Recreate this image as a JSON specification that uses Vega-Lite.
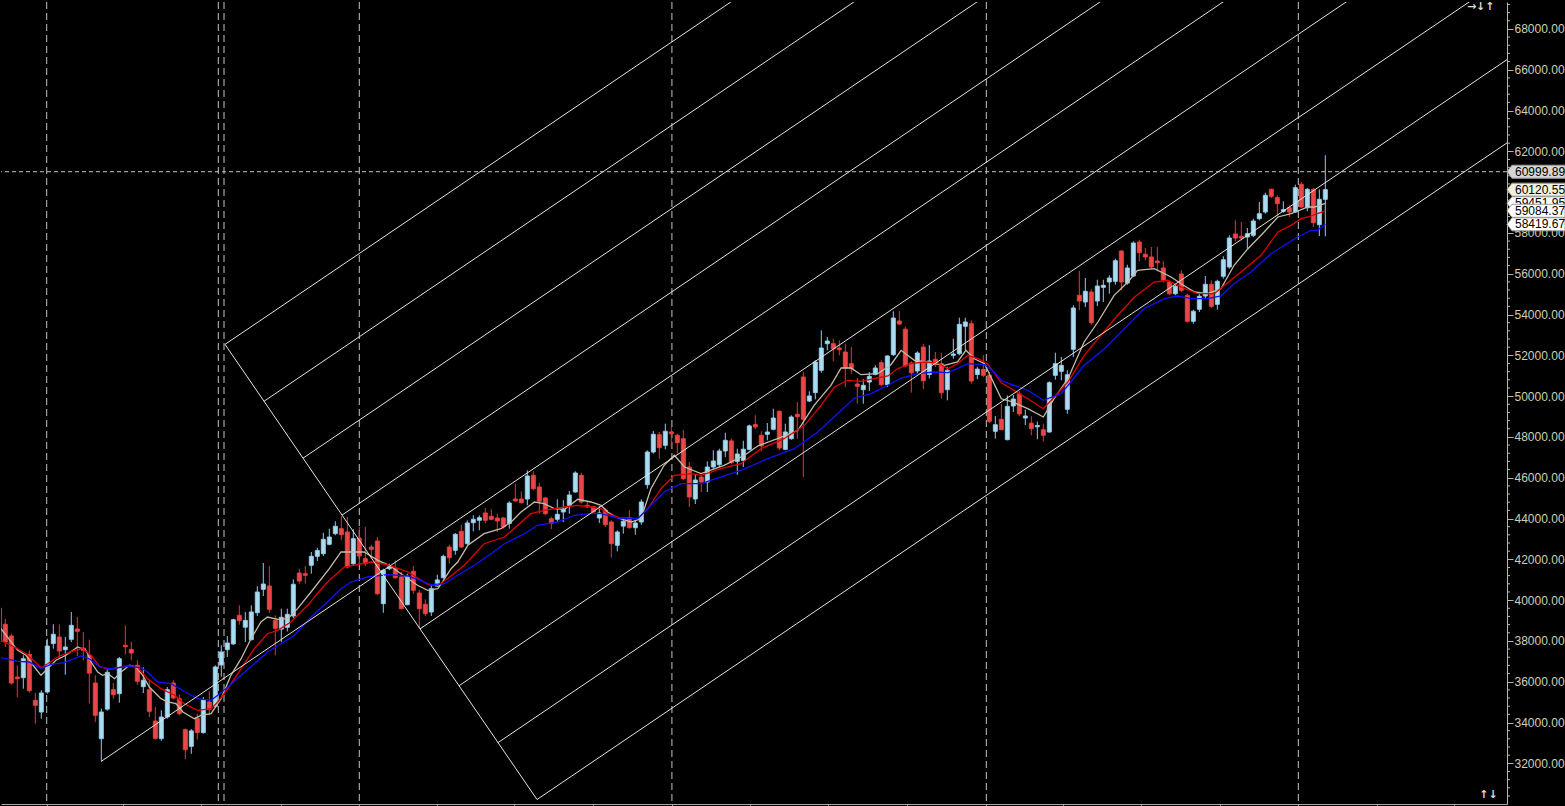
{
  "$schema": "https://vega.github.io/schema/vega-lite/v6.json",
  "width": 1506,
  "height": 802,
  "padding": 0,
  "autosize": {"type": "pad"},
  "background": "#000000",
  "config": {"view": {"stroke": null}, "axis": {"grid": false, "labelOverlap": false}, "scale": {"continuousPadding": 0}},
  "datasets": {
    "candles": [
      {"k":-1,"o":39613,"h":39760,"l":37848,"c":37946},
      {"k":0,"o":38814,"h":39088,"l":37701,"c":37946},
      {"k":1,"o":38240,"h":38353,"l":35853,"c":35936},
      {"k":2,"o":36231,"h":36804,"l":35250,"c":36147},
      {"k":3,"o":36196,"h":37294,"l":35657,"c":37127},
      {"k":4,"o":37343,"h":37539,"l":35461,"c":35559},
      {"k":5,"o":35088,"h":35446,"l":33941,"c":34843},
      {"k":6,"o":34515,"h":35579,"l":34187,"c":35446},
      {"k":7,"o":35495,"h":38108,"l":35412,"c":37750},
      {"k":8,"o":37867,"h":38814,"l":37618,"c":38324},
      {"k":9,"o":38191,"h":38814,"l":37127,"c":37505},
      {"k":10,"o":37569,"h":38191,"l":36343,"c":37701},
      {"k":11,"o":38078,"h":39417,"l":37946,"c":38765},
      {"k":12,"o":38584,"h":39172,"l":37260,"c":38471},
      {"k":13,"o":37652,"h":38436,"l":37050,"c":37539},
      {"k":14,"o":37294,"h":38059,"l":34922,"c":36422},
      {"k":15,"o":35936,"h":36314,"l":34025,"c":34354},
      {"k":16,"o":33206,"h":34677,"l":32098,"c":34515},
      {"k":17,"o":34657,"h":36588,"l":34579,"c":36461},
      {"k":18,"o":35608,"h":35936,"l":35167,"c":35363},
      {"k":19,"o":35412,"h":37211,"l":34971,"c":37127},
      {"k":20,"o":37784,"h":38765,"l":37333,"c":37716},
      {"k":21,"o":37583,"h":37960,"l":37050,"c":37407},
      {"k":22,"o":36804,"h":37050,"l":35853,"c":36020},
      {"k":23,"o":35755,"h":36706,"l":35446,"c":36069},
      {"k":24,"o":35608,"h":36034,"l":34270,"c":34549},
      {"k":25,"o":34074,"h":34760,"l":33157,"c":33225},
      {"k":26,"o":33206,"h":34598,"l":33108,"c":34270},
      {"k":27,"o":34270,"h":35740,"l":34187,"c":35608},
      {"k":28,"o":35936,"h":36069,"l":35137,"c":35201},
      {"k":29,"o":35167,"h":35363,"l":34353,"c":34432},
      {"k":30,"o":33647,"h":33711,"l":32206,"c":32666},
      {"k":31,"o":32832,"h":33677,"l":32463,"c":33589},
      {"k":32,"o":34206,"h":34422,"l":33157,"c":33505},
      {"k":33,"o":33505,"h":35250,"l":33456,"c":35103},
      {"k":34,"o":35005,"h":35530,"l":34353,"c":34647},
      {"k":35,"o":34795,"h":36804,"l":34711,"c":36721},
      {"k":36,"o":36819,"h":37785,"l":36245,"c":37456},
      {"k":37,"o":37569,"h":38240,"l":37211,"c":37898},
      {"k":38,"o":37853,"h":39088,"l":37804,"c":39039},
      {"k":39,"o":39255,"h":39745,"l":38794,"c":38990},
      {"k":40,"o":38672,"h":39417,"l":37946,"c":39005},
      {"k":41,"o":38059,"h":39745,"l":38030,"c":39417},
      {"k":42,"o":39383,"h":40677,"l":39221,"c":40397},
      {"k":43,"o":40530,"h":41819,"l":40201,"c":40789},
      {"k":44,"o":40691,"h":41672,"l":39368,"c":39549},
      {"k":45,"o":39010,"h":39255,"l":37294,"c":38618},
      {"k":46,"o":38579,"h":39579,"l":37946,"c":39157},
      {"k":47,"o":38667,"h":39579,"l":38461,"c":39304},
      {"k":48,"o":39221,"h":41019,"l":39123,"c":40775},
      {"k":49,"o":41329,"h":41540,"l":40804,"c":40936},
      {"k":50,"o":41294,"h":41672,"l":40804,"c":41216},
      {"k":51,"o":41706,"h":42358,"l":41294,"c":42147},
      {"k":52,"o":42147,"h":42569,"l":41917,"c":42431},
      {"k":53,"o":42275,"h":43304,"l":42162,"c":42981},
      {"k":54,"o":42735,"h":43500,"l":42686,"c":43093},
      {"k":55,"o":43255,"h":43863,"l":43177,"c":43618},
      {"k":56,"o":43500,"h":44123,"l":42932,"c":43206},
      {"k":57,"o":43338,"h":44074,"l":41540,"c":41623},
      {"k":58,"o":41784,"h":43471,"l":41706,"c":43010},
      {"k":59,"o":43044,"h":43583,"l":41706,"c":42162},
      {"k":60,"o":42030,"h":43583,"l":41672,"c":41784},
      {"k":61,"o":42603,"h":42716,"l":42030,"c":42490},
      {"k":62,"o":42897,"h":43093,"l":40235,"c":40314},
      {"k":63,"o":39824,"h":41540,"l":39383,"c":41461},
      {"k":64,"o":41540,"h":41784,"l":41461,"c":41623},
      {"k":65,"o":41540,"h":41951,"l":41049,"c":41098},
      {"k":66,"o":41133,"h":41378,"l":39549,"c":39579},
      {"k":67,"o":39775,"h":41294,"l":39745,"c":41167},
      {"k":68,"o":41412,"h":41672,"l":40314,"c":40481},
      {"k":69,"o":40348,"h":40481,"l":38632,"c":39579},
      {"k":70,"o":39794,"h":40039,"l":39221,"c":39334},
      {"k":71,"o":39417,"h":40726,"l":39221,"c":40559},
      {"k":72,"o":40691,"h":41245,"l":40642,"c":40990},
      {"k":73,"o":41098,"h":42226,"l":41049,"c":42147},
      {"k":74,"o":42603,"h":42716,"l":41784,"c":42079},
      {"k":75,"o":42441,"h":43289,"l":42226,"c":43225},
      {"k":76,"o":43373,"h":43696,"l":42554,"c":42603},
      {"k":77,"o":42765,"h":43912,"l":42716,"c":43779},
      {"k":78,"o":43794,"h":44157,"l":43373,"c":43961},
      {"k":79,"o":43912,"h":44157,"l":43422,"c":44039},
      {"k":80,"o":44270,"h":44515,"l":43755,"c":43912},
      {"k":81,"o":44108,"h":44456,"l":43912,"c":43961},
      {"k":82,"o":44025,"h":44235,"l":43338,"c":43877},
      {"k":83,"o":44025,"h":44074,"l":43500,"c":43583},
      {"k":84,"o":43755,"h":44843,"l":43500,"c":44760},
      {"k":85,"o":44956,"h":45706,"l":44843,"c":44858},
      {"k":86,"o":44956,"h":45333,"l":44726,"c":44775},
      {"k":87,"o":44956,"h":46363,"l":44647,"c":46084},
      {"k":88,"o":46118,"h":46314,"l":45382,"c":45461},
      {"k":89,"o":45544,"h":45755,"l":44236,"c":44843},
      {"k":90,"o":45005,"h":45054,"l":44157,"c":44236},
      {"k":91,"o":43990,"h":44088,"l":43481,"c":43760},
      {"k":92,"o":43961,"h":44941,"l":43829,"c":44206},
      {"k":93,"o":44319,"h":44897,"l":43829,"c":44451},
      {"k":94,"o":44647,"h":45348,"l":44236,"c":45152},
      {"k":95,"o":45299,"h":46314,"l":45265,"c":46231},
      {"k":96,"o":46118,"h":46245,"l":44726,"c":44809},
      {"k":97,"o":44647,"h":44809,"l":44515,"c":44564},
      {"k":98,"o":44578,"h":44613,"l":44270,"c":44319},
      {"k":99,"o":44025,"h":44613,"l":43784,"c":44270},
      {"k":100,"o":44417,"h":44500,"l":43583,"c":43696},
      {"k":101,"o":43829,"h":43912,"l":42079,"c":42765},
      {"k":102,"o":42686,"h":43422,"l":42392,"c":43338},
      {"k":103,"o":43627,"h":44025,"l":43255,"c":43863},
      {"k":104,"o":44039,"h":44402,"l":43500,"c":43549},
      {"k":105,"o":43549,"h":43912,"l":43206,"c":43779},
      {"k":106,"o":43829,"h":44941,"l":43696,"c":44809},
      {"k":107,"o":45657,"h":47343,"l":45461,"c":47260},
      {"k":108,"o":47260,"h":48289,"l":47177,"c":48128},
      {"k":109,"o":48108,"h":48240,"l":46931,"c":47471},
      {"k":110,"o":47588,"h":48652,"l":47392,"c":48275},
      {"k":111,"o":48240,"h":48485,"l":47505,"c":48157},
      {"k":112,"o":48079,"h":48157,"l":47177,"c":47716},
      {"k":113,"o":47912,"h":48353,"l":45873,"c":45956},
      {"k":114,"o":46525,"h":46770,"l":44564,"c":45054},
      {"k":115,"o":44956,"h":46182,"l":44711,"c":45887},
      {"k":116,"o":46035,"h":46118,"l":45299,"c":45790},
      {"k":117,"o":45790,"h":46799,"l":45299,"c":46525},
      {"k":118,"o":46525,"h":47343,"l":46443,"c":46819},
      {"k":119,"o":46638,"h":47422,"l":46525,"c":47309},
      {"k":120,"o":47309,"h":48206,"l":47015,"c":47833},
      {"k":121,"o":47804,"h":47917,"l":46642,"c":46740},
      {"k":122,"o":46799,"h":47421,"l":46143,"c":47162},
      {"k":123,"o":46848,"h":47814,"l":46525,"c":47397},
      {"k":124,"o":47389,"h":48603,"l":47343,"c":48539},
      {"k":125,"o":48603,"h":49064,"l":48377,"c":48490},
      {"k":126,"o":48079,"h":48275,"l":47299,"c":47559},
      {"k":127,"o":48128,"h":48682,"l":47833,"c":48240},
      {"k":128,"o":48373,"h":49383,"l":48324,"c":48926},
      {"k":129,"o":49255,"h":49304,"l":47343,"c":47456},
      {"k":130,"o":47392,"h":48647,"l":47343,"c":48240},
      {"k":131,"o":47912,"h":49059,"l":47863,"c":48976},
      {"k":132,"o":49108,"h":49711,"l":47912,"c":48991},
      {"k":133,"o":50937,"h":51182,"l":46035,"c":48863},
      {"k":134,"o":49760,"h":50235,"l":49711,"c":50005},
      {"k":135,"o":50167,"h":51755,"l":49843,"c":51672},
      {"k":136,"o":51265,"h":53226,"l":51147,"c":52358},
      {"k":137,"o":52569,"h":52897,"l":52245,"c":52701},
      {"k":138,"o":52569,"h":52814,"l":51721,"c":52324},
      {"k":139,"o":52358,"h":52735,"l":51999,"c":52275},
      {"k":140,"o":52162,"h":52569,"l":50446,"c":51378},
      {"k":141,"o":51589,"h":52407,"l":51098,"c":51343},
      {"k":142,"o":50593,"h":50887,"l":49628,"c":50480},
      {"k":143,"o":50314,"h":50824,"l":49628,"c":50530},
      {"k":144,"o":50691,"h":51182,"l":50250,"c":50971},
      {"k":145,"o":51069,"h":51510,"l":51020,"c":51378},
      {"k":146,"o":51638,"h":51755,"l":50480,"c":50559},
      {"k":147,"o":50559,"h":51999,"l":50446,"c":51966},
      {"k":148,"o":52029,"h":54157,"l":51966,"c":53829},
      {"k":149,"o":53682,"h":54172,"l":53486,"c":53535},
      {"k":150,"o":53280,"h":53398,"l":51427,"c":51476},
      {"k":151,"o":51623,"h":51706,"l":50167,"c":51147},
      {"k":152,"o":51231,"h":52196,"l":51098,"c":52113},
      {"k":153,"o":52407,"h":52569,"l":50353,"c":50750},
      {"k":154,"o":51059,"h":52500,"l":50863,"c":51721},
      {"k":155,"o":51804,"h":52162,"l":51427,"c":51559},
      {"k":156,"o":51589,"h":52127,"l":49873,"c":50167},
      {"k":157,"o":50314,"h":51427,"l":49794,"c":51265},
      {"k":158,"o":51999,"h":52814,"l":51833,"c":52064},
      {"k":159,"o":52078,"h":53843,"l":51999,"c":53520},
      {"k":160,"o":53422,"h":53844,"l":52245,"c":53633},
      {"k":161,"o":53549,"h":53716,"l":50608,"c":50740},
      {"k":162,"o":51059,"h":51427,"l":50824,"c":51324},
      {"k":163,"o":51304,"h":52010,"l":50937,"c":51020},
      {"k":164,"o":51020,"h":51182,"l":48682,"c":48765},
      {"k":165,"o":48275,"h":49025,"l":47912,"c":48598},
      {"k":166,"o":48863,"h":49628,"l":48324,"c":48353},
      {"k":167,"o":47863,"h":50030,"l":47833,"c":49500},
      {"k":168,"o":49515,"h":50054,"l":49221,"c":49858},
      {"k":169,"o":50108,"h":50240,"l":49015,"c":49128},
      {"k":170,"o":48926,"h":49338,"l":48583,"c":49025},
      {"k":171,"o":48672,"h":49015,"l":48079,"c":48402},
      {"k":172,"o":48495,"h":48755,"l":47882,"c":48559},
      {"k":173,"o":48353,"h":48647,"l":47784,"c":48079},
      {"k":174,"o":48240,"h":50726,"l":48206,"c":50657},
      {"k":175,"o":51020,"h":52128,"l":50804,"c":51588},
      {"k":176,"o":51216,"h":51917,"l":50775,"c":51510},
      {"k":177,"o":49353,"h":51265,"l":49137,"c":51049},
      {"k":178,"o":52294,"h":54451,"l":51917,"c":54319},
      {"k":179,"o":54941,"h":56133,"l":54206,"c":54662},
      {"k":180,"o":54613,"h":55789,"l":54368,"c":55137},
      {"k":181,"o":55103,"h":55236,"l":53500,"c":53598},
      {"k":182,"o":54662,"h":55706,"l":54417,"c":55397},
      {"k":183,"o":55333,"h":55706,"l":54613,"c":55431},
      {"k":184,"o":55593,"h":55922,"l":55020,"c":55789},
      {"k":185,"o":55627,"h":56736,"l":55461,"c":56638},
      {"k":186,"o":57113,"h":57147,"l":55186,"c":55593},
      {"k":187,"o":55544,"h":56441,"l":55461,"c":56280},
      {"k":188,"o":55887,"h":57589,"l":55838,"c":57505},
      {"k":189,"o":57554,"h":57667,"l":56608,"c":57030},
      {"k":190,"o":56951,"h":57260,"l":56657,"c":56819},
      {"k":191,"o":56819,"h":57309,"l":56216,"c":56329},
      {"k":192,"o":56623,"h":57309,"l":56118,"c":56540},
      {"k":193,"o":56280,"h":56608,"l":55559,"c":55677},
      {"k":194,"o":55593,"h":55677,"l":54941,"c":55020},
      {"k":195,"o":55020,"h":55510,"l":54941,"c":55383},
      {"k":196,"o":55985,"h":56167,"l":55103,"c":55186},
      {"k":197,"o":54941,"h":55020,"l":53598,"c":53667},
      {"k":198,"o":53667,"h":54236,"l":53549,"c":54157},
      {"k":199,"o":54255,"h":55069,"l":54123,"c":54892},
      {"k":200,"o":54907,"h":55887,"l":54775,"c":55480},
      {"k":201,"o":55480,"h":55677,"l":54319,"c":54402},
      {"k":202,"o":54500,"h":55706,"l":54236,"c":55627},
      {"k":203,"o":55873,"h":56853,"l":55755,"c":56686},
      {"k":204,"o":56329,"h":57883,"l":56246,"c":57750},
      {"k":205,"o":57946,"h":58618,"l":57588,"c":57750},
      {"k":206,"o":57833,"h":58535,"l":57637,"c":57750},
      {"k":207,"o":57799,"h":58240,"l":57226,"c":57961},
      {"k":208,"o":57883,"h":58696,"l":57799,"c":58584},
      {"k":209,"o":58696,"h":59515,"l":58618,"c":58941},
      {"k":210,"o":59025,"h":59971,"l":58942,"c":59843},
      {"k":211,"o":60138,"h":60168,"l":59711,"c":59794},
      {"k":212,"o":59726,"h":59843,"l":58829,"c":59432},
      {"k":213,"o":59059,"h":59549,"l":58990,"c":59138},
      {"k":214,"o":59235,"h":59353,"l":58780,"c":59025},
      {"k":215,"o":59025,"h":60363,"l":58990,"c":60216},
      {"k":216,"o":60383,"h":60497,"l":59221,"c":59270},
      {"k":217,"o":59235,"h":60201,"l":59059,"c":60138},
      {"k":218,"o":60138,"h":60201,"l":58290,"c":58500},
      {"k":219,"o":58402,"h":60138,"l":57848,"c":59647},
      {"k":220,"o":59647,"h":61804,"l":57833,"c":60120.55}
    ],
    "ma": [
      {"s":"fast","k":-0.72,"v":38598},{"s":"fast","k":2.06,"v":37539},{"s":"fast","k":3.45,"v":37294},{"s":"fast","k":4.84,"v":36721},{"s":"fast","k":5.95,"v":36314},{"s":"fast","k":7.06,"v":36640},{"s":"fast","k":8.45,"v":37050},{"s":"fast","k":10.1,"v":37294},{"s":"fast","k":12.06,"v":37701},{"s":"fast","k":13.45,"v":37539},{"s":"fast","k":14.3,"v":36966},{"s":"fast","k":15.4,"v":36476},{"s":"fast","k":16.2,"v":36314},{"s":"fast","k":17.1,"v":36392},{"s":"fast","k":18.2,"v":36147},{"s":"fast","k":19.3,"v":36476},{"s":"fast","k":20.7,"v":36804},{"s":"fast","k":21.8,"v":36721},{"s":"fast","k":22.9,"v":36314},{"s":"fast","k":24,"v":35740},{"s":"fast","k":25.95,"v":35167},{"s":"fast","k":27.1,"v":35005},{"s":"fast","k":28.45,"v":34922},{"s":"fast","k":29.6,"v":34515},{"s":"fast","k":31.5,"v":34187},{"s":"fast","k":32.6,"v":34353},{"s":"fast","k":34.3,"v":34432},{"s":"fast","k":35.95,"v":35167},{"s":"fast","k":37.6,"v":36314},{"s":"fast","k":39.3,"v":37127},{"s":"fast","k":40.95,"v":38108},{"s":"fast","k":42.6,"v":38926},{"s":"fast","k":43.7,"v":39172},{"s":"fast","k":45.4,"v":39059},{"s":"fast","k":47.1,"v":39088},{"s":"fast","k":48.7,"v":39579},{"s":"fast","k":50.95,"v":40397},{"s":"fast","k":54,"v":41540},{"s":"fast","k":55.95,"v":42358},{"s":"fast","k":59.8,"v":42358},{"s":"fast","k":62.1,"v":41951},{"s":"fast","k":64,"v":41706},{"s":"fast","k":65.95,"v":41294},{"s":"fast","k":68.7,"v":40726},{"s":"fast","k":70.4,"v":40481},{"s":"fast","k":72.1,"v":40559},{"s":"fast","k":74.3,"v":41540},{"s":"fast","k":75.4,"v":41868},{"s":"fast","k":77.1,"v":42686},{"s":"fast","k":79.8,"v":43255},{"s":"fast","k":82.6,"v":43500},{"s":"fast","k":84.3,"v":43829},{"s":"fast","k":85.95,"v":44319},{"s":"fast","k":88.2,"v":44809},{"s":"fast","k":89.8,"v":44726},{"s":"fast","k":91.5,"v":44481},{"s":"fast","k":93.2,"v":44451},{"s":"fast","k":95.4,"v":44941},{"s":"fast","k":97.6,"v":44809},{"s":"fast","k":99.3,"v":44647},{"s":"fast","k":100.4,"v":44319},{"s":"fast","k":102.1,"v":44025},{"s":"fast","k":104.3,"v":43829},{"s":"fast","k":105.95,"v":43990},{"s":"fast","k":107.6,"v":45461},{"s":"fast","k":109.8,"v":46608},{"s":"fast","k":111.5,"v":47098},{"s":"fast","k":113.2,"v":46525},{"s":"fast","k":115.95,"v":46198},{"s":"fast","k":119.8,"v":46608},{"s":"fast","k":123.2,"v":47098},{"s":"fast","k":125.4,"v":47554},{"s":"fast","k":128.7,"v":47912},{"s":"fast","k":132.1,"v":48324},{"s":"fast","k":134.8,"v":49549},{"s":"fast","k":137.6,"v":50530},{"s":"fast","k":139.3,"v":51378},{"s":"fast","k":140.95,"v":51378},{"s":"fast","k":142.6,"v":51049},{"s":"fast","k":145.4,"v":51098},{"s":"fast","k":147.6,"v":51539},{"s":"fast","k":149.3,"v":52245},{"s":"fast","k":151.5,"v":51755},{"s":"fast","k":153.7,"v":51672},{"s":"fast","k":156.5,"v":51510},{"s":"fast","k":158.7,"v":51672},{"s":"fast","k":160.1,"v":52245},{"s":"fast","k":161.5,"v":51833},{"s":"fast","k":163.2,"v":51588},{"s":"fast","k":166,"v":49870},{"s":"fast","k":168,"v":49700},{"s":"fast","k":170.4,"v":49383},{"s":"fast","k":173,"v":48976},{"s":"fast","k":174.8,"v":49873},{"s":"fast","k":177.1,"v":50853},{"s":"fast","k":179.8,"v":52652},{"s":"fast","k":182.1,"v":53632},{"s":"fast","k":184.8,"v":54941},{"s":"fast","k":187.1,"v":55593},{"s":"fast","k":188.7,"v":56167},{"s":"fast","k":191.5,"v":56245},{"s":"fast","k":194.3,"v":55838},{"s":"fast","k":195.95,"v":55510},{"s":"fast","k":198.2,"v":55103},{"s":"fast","k":200.4,"v":55020},{"s":"fast","k":202.6,"v":55265},{"s":"fast","k":204.8,"v":56412},{"s":"fast","k":207.1,"v":57226},{"s":"fast","k":209.8,"v":58044},{"s":"fast","k":212.1,"v":58780},{"s":"fast","k":214.3,"v":58942},{"s":"fast","k":217.1,"v":59270},{"s":"fast","k":218.2,"v":59270},{"s":"fast","k":220,"v":59451.95},
      {"s":"mid","k":-0.72,"v":38030},{"s":"mid","k":2.06,"v":37618},{"s":"mid","k":3.45,"v":37373},{"s":"mid","k":4.84,"v":37000},{"s":"mid","k":5.95,"v":36686},{"s":"mid","k":7.06,"v":36882},{"s":"mid","k":8.73,"v":37211},{"s":"mid","k":11.5,"v":37539},{"s":"mid","k":12.9,"v":37618},{"s":"mid","k":14.3,"v":37294},{"s":"mid","k":15.7,"v":36755},{"s":"mid","k":17.1,"v":36608},{"s":"mid","k":18.2,"v":36640},{"s":"mid","k":19.8,"v":36755},{"s":"mid","k":20.95,"v":36804},{"s":"mid","k":22.1,"v":36686},{"s":"mid","k":23.7,"v":36147},{"s":"mid","k":25.95,"v":35657},{"s":"mid","k":28.2,"v":35334},{"s":"mid","k":29.8,"v":34922},{"s":"mid","k":32.05,"v":34598},{"s":"mid","k":34.3,"v":34677},{"s":"mid","k":35.4,"v":35005},{"s":"mid","k":37.1,"v":35657},{"s":"mid","k":39.3,"v":36640},{"s":"mid","k":41.5,"v":37618},{"s":"mid","k":43.7,"v":38353},{"s":"mid","k":45.4,"v":38520},{"s":"mid","k":47.6,"v":38926},{"s":"mid","k":50.4,"v":39745},{"s":"mid","k":53.2,"v":40726},{"s":"mid","k":54.3,"v":41049},{"s":"mid","k":56.5,"v":41623},{"s":"mid","k":60.95,"v":41868},{"s":"mid","k":63.7,"v":41736},{"s":"mid","k":67.1,"v":41378},{"s":"mid","k":70.4,"v":40775},{"s":"mid","k":72.1,"v":40726},{"s":"mid","k":73.7,"v":41049},{"s":"mid","k":76.5,"v":41706},{"s":"mid","k":79.8,"v":42765},{"s":"mid","k":83.2,"v":43093},{"s":"mid","k":85.4,"v":43667},{"s":"mid","k":87.6,"v":44236},{"s":"mid","k":89.8,"v":44402},{"s":"mid","k":93.2,"v":44564},{"s":"mid","k":95.4,"v":44647},{"s":"mid","k":97.6,"v":44564},{"s":"mid","k":99.3,"v":44481},{"s":"mid","k":100.4,"v":44236},{"s":"mid","k":102.6,"v":44025},{"s":"mid","k":105.4,"v":43990},{"s":"mid","k":107.1,"v":44481},{"s":"mid","k":109.3,"v":45461},{"s":"mid","k":111.5,"v":46118},{"s":"mid","k":114.3,"v":46198},{"s":"mid","k":115.95,"v":46118},{"s":"mid","k":119.3,"v":46442},{"s":"mid","k":122.6,"v":46688},{"s":"mid","k":125.95,"v":47422},{"s":"mid","k":129.8,"v":47912},{"s":"mid","k":133.2,"v":48569},{"s":"mid","k":135.95,"v":49549},{"s":"mid","k":138.2,"v":50446},{"s":"mid","k":140.4,"v":50775},{"s":"mid","k":142.6,"v":50726},{"s":"mid","k":144.8,"v":50853},{"s":"mid","k":147.1,"v":50986},{"s":"mid","k":148.7,"v":51343},{"s":"mid","k":150.95,"v":51588},{"s":"mid","k":153.2,"v":51672},{"s":"mid","k":155.4,"v":51623},{"s":"mid","k":157.1,"v":51343},{"s":"mid","k":158.7,"v":51588},{"s":"mid","k":160.4,"v":51999},{"s":"mid","k":162.1,"v":51833},{"s":"mid","k":163.7,"v":51588},{"s":"mid","k":166,"v":50650},{"s":"mid","k":170.4,"v":49873},{"s":"mid","k":173,"v":49383},{"s":"mid","k":175.1,"v":50040},{"s":"mid","k":177.1,"v":50691},{"s":"mid","k":179.8,"v":52000},{"s":"mid","k":182.6,"v":52980},{"s":"mid","k":185.4,"v":53961},{"s":"mid","k":188.2,"v":54858},{"s":"mid","k":191.5,"v":55593},{"s":"mid","k":193.7,"v":55677},{"s":"mid","k":195.95,"v":55348},{"s":"mid","k":198.7,"v":55020},{"s":"mid","k":201.5,"v":55020},{"s":"mid","k":203.2,"v":55431},{"s":"mid","k":205.95,"v":56083},{"s":"mid","k":209.3,"v":56902},{"s":"mid","k":212.1,"v":58044},{"s":"mid","k":214.3,"v":58372},{"s":"mid","k":215.95,"v":58696},{"s":"mid","k":217.1,"v":58780},{"s":"mid","k":218.7,"v":58942},{"s":"mid","k":220,"v":59084.37},
      {"s":"slow","k":-0.72,"v":37177},{"s":"slow","k":2.06,"v":37000},{"s":"slow","k":4,"v":36966},{"s":"slow","k":5.95,"v":36640},{"s":"slow","k":7.6,"v":36853},{"s":"slow","k":9.84,"v":36931},{"s":"slow","k":12.6,"v":37260},{"s":"slow","k":14,"v":37127},{"s":"slow","k":15.7,"v":36721},{"s":"slow","k":17.6,"v":36640},{"s":"slow","k":20.4,"v":36755},{"s":"slow","k":22.6,"v":36686},{"s":"slow","k":23.7,"v":36476},{"s":"slow","k":25.4,"v":35985},{"s":"slow","k":27.6,"v":35902},{"s":"slow","k":29.8,"v":35530},{"s":"slow","k":32.05,"v":35167},{"s":"slow","k":34.3,"v":35088},{"s":"slow","k":35.4,"v":35334},{"s":"slow","k":37.1,"v":35740},{"s":"slow","k":39.3,"v":36314},{"s":"slow","k":41.5,"v":36882},{"s":"slow","k":43.7,"v":37456},{"s":"slow","k":45.95,"v":37863},{"s":"slow","k":48.2,"v":38275},{"s":"slow","k":50.95,"v":39172},{"s":"slow","k":53.7,"v":39907},{"s":"slow","k":55.95,"v":40559},{"s":"slow","k":57.6,"v":40887},{"s":"slow","k":60.4,"v":41133},{"s":"slow","k":63.7,"v":41245},{"s":"slow","k":67.1,"v":41181},{"s":"slow","k":70.95,"v":40755},{"s":"slow","k":73.2,"v":40804},{"s":"slow","k":75.4,"v":41216},{"s":"slow","k":78.2,"v":41706},{"s":"slow","k":80.95,"v":42275},{"s":"slow","k":83.2,"v":42765},{"s":"slow","k":86.5,"v":43255},{"s":"slow","k":88.7,"v":43667},{"s":"slow","k":92.1,"v":43829},{"s":"slow","k":94.8,"v":44157},{"s":"slow","k":97.6,"v":44236},{"s":"slow","k":99.3,"v":44236},{"s":"slow","k":102.1,"v":44025},{"s":"slow","k":105.4,"v":43990},{"s":"slow","k":107.6,"v":44647},{"s":"slow","k":109.8,"v":45299},{"s":"slow","k":112.6,"v":45706},{"s":"slow","k":115.95,"v":45706},{"s":"slow","k":119.3,"v":46035},{"s":"slow","k":122.6,"v":46363},{"s":"slow","k":127.1,"v":46931},{"s":"slow","k":131.5,"v":47422},{"s":"slow","k":135.4,"v":48240},{"s":"slow","k":138.7,"v":49137},{"s":"slow","k":141.5,"v":49907},{"s":"slow","k":144.3,"v":50118},{"s":"slow","k":147.1,"v":50530},{"s":"slow","k":149.3,"v":50887},{"s":"slow","k":152.1,"v":51098},{"s":"slow","k":154.8,"v":51182},{"s":"slow","k":157.1,"v":51147},{"s":"slow","k":158.7,"v":51343},{"s":"slow","k":160.4,"v":51588},{"s":"slow","k":163.2,"v":51539},{"s":"slow","k":164.8,"v":51182},{"s":"slow","k":166.2,"v":50730},{"s":"slow","k":170.4,"v":50284},{"s":"slow","k":173,"v":49794},{"s":"slow","k":175.95,"v":50118},{"s":"slow","k":177.6,"v":50691},{"s":"slow","k":179.8,"v":51510},{"s":"slow","k":183.2,"v":52323},{"s":"slow","k":186.5,"v":53304},{"s":"slow","k":189.8,"v":54284},{"s":"slow","k":193.2,"v":54775},{"s":"slow","k":195.4,"v":54907},{"s":"slow","k":197.6,"v":54775},{"s":"slow","k":200.4,"v":54775},{"s":"slow","k":202.6,"v":54907},{"s":"slow","k":204.8,"v":55510},{"s":"slow","k":207.6,"v":56083},{"s":"slow","k":210.95,"v":56980},{"s":"slow","k":213.2,"v":57392},{"s":"slow","k":215.4,"v":57799},{"s":"slow","k":217.6,"v":58128},{"s":"slow","k":218.7,"v":58128},{"s":"slow","k":220,"v":58419.67}
    ],
    "separators": [{"k":6.9},{"k":35.5},{"k":36.45},{"k":59.0},{"k":111.1},{"k":163.5},{"k":215.5}],
    "minorTicks": [
      {"v":30400},{"v":30800},{"v":31200},{"v":31600},{"v":32400},{"v":32800},{"v":33200},{"v":33600},{"v":34400},{"v":34800},{"v":35200},{"v":35600},{"v":36400},{"v":36800},{"v":37200},{"v":37600},{"v":38400},{"v":38800},{"v":39200},{"v":39600},{"v":40400},{"v":40800},{"v":41200},{"v":41600},{"v":42400},{"v":42800},{"v":43200},{"v":43600},{"v":44400},{"v":44800},{"v":45200},{"v":45600},{"v":46400},{"v":46800},{"v":47200},{"v":47600},{"v":48400},{"v":48800},{"v":49200},{"v":49600},{"v":50400},{"v":50800},{"v":51200},{"v":51600},{"v":52400},{"v":52800},{"v":53200},{"v":53600},{"v":54400},{"v":54800},{"v":55200},{"v":55600},{"v":56400},{"v":56800},{"v":57200},{"v":57600},{"v":58400},{"v":58800},{"v":59200},{"v":59600},{"v":60400},{"v":60800},{"v":61200},{"v":61600},{"v":62400},{"v":62800},{"v":63200},{"v":63600},{"v":64400},{"v":64800},{"v":65200},{"v":65600},{"v":66400},{"v":66800},{"v":67200},{"v":67600},{"v":68400},{"v":68800},{"v":69200}
    ],
    "channel": [
      {"k1":16,"p1":32098,"k2":250.3,"p2":78747},
      {"k1":36.62,"p1":52535,"k2":250.3,"p2":95079},
      {"k1":43.12,"p1":49747,"k2":250.3,"p2":90996},
      {"k1":49.62,"p1":46958,"k2":250.3,"p2":86913},
      {"k1":56.12,"p1":44169,"k2":250.3,"p2":82830},
      {"k1":69.12,"p1":38591,"k2":250.3,"p2":74664},
      {"k1":75.62,"p1":35802,"k2":250.3,"p2":70581},
      {"k1":82.12,"p1":33013,"k2":250.3,"p2":66498},
      {"k1":88.62,"p1":30225,"k2":250.3,"p2":62415},
      {"k1":36.62,"p1":52535,"k2":88.62,"p2":30225}
    ],
    "levels": [
      {"p":60999.89,"t":"60999.89","n":"line"},
      {"p":60120.55,"t":"60120.55","n":"close"},
      {"p":59451.95,"t":"59451.95","n":"ma1"},
      {"p":59084.37,"t":"59084.37","n":"ma2"},
      {"p":58419.67,"t":"58419.67","n":"ma3"}
    ],
    "icons": [
      {"k":247.2,"p":30460,"t":"↑↓"},
      {"k":245.9,"p":69074,"t":"→↓↑"}
    ]
  },
  "layer": [
    {
      "data": {"name": "separators"},
      "mark": {"type": "rule", "color": "#c4c4c4", "strokeWidth": 1, "strokeDash": [7, 4]},
      "encoding": {
        "x": {"field": "k", "type": "quantitative", "scale": {"domain": [-0.717, 250.28], "nice": false, "zero": false, "padding": 0},
          "axis": {"title": null, "orient": "bottom", "labels": false, "values": [6.9, 19.6, 32.6, 45.95, 59.0, 71.95, 84.8, 98.0, 111.1, 124.1, 137.1, 150.3, 163.5, 176.3, 189.3, 202.4, 215.5, 228.6, 241.5], "tickSize": 5, "tickColor": "#a8a8a8", "domainColor": "#a8a8a8", "grid": false}}
      }
    },
    {
      "data": {"name": "levels"},
      "transform": [{"filter": "datum.n === 'line'"}],
      "mark": {"type": "rule", "color": "#c4c4c4", "strokeWidth": 1, "strokeDash": [4, 3]},
      "encoding": {
        "y": {"field": "p", "type": "quantitative", "scale": {"domain": [30005, 69319], "nice": false, "zero": false, "padding": 0},
          "axis": {"title": null, "orient": "right", "grid": false,
            "values": [32000,34000,36000,38000,40000,42000,44000,46000,48000,50000,52000,54000,56000,58000,60000,62000,64000,66000,68000],
            "format": ".2f",
            "tickSize": 6,
            "tickColor": "#b8b8a8", "domainColor": "#b8b8a8",
            "labelColor": "#cfcfb4", "labelFont": "Liberation Sans", "labelFontSize": 12,
            "labelPadding": 1, "labelOverlap": false, "labelFlush": false, "labelBound": false}}
      }
    },
    {
      "data": {"name": "minorTicks"},
      "mark": {"type": "tick", "orient": "horizontal", "size": 3, "thickness": 1, "xOffset": 1.5, "color": "#b8b8a8", "opacity": 1},
      "encoding": {
        "x": {"value": "width"},
        "y": {"field": "v", "type": "quantitative"}
      }
    },
    {
      "data": {"name": "candles"},
      "mark": {"type": "rule", "strokeWidth": 1, "clip": true},
      "encoding": {
        "x": {"field": "k", "type": "quantitative"},
        "y": {"field": "l", "type": "quantitative"},
        "y2": {"field": "h"},
        "color": {"condition": {"test": "datum.c >= datum.o", "value": "#87cefa"}, "value": "#ff2a2a"}
      }
    },
    {
      "data": {"name": "candles"},
      "mark": {"type": "bar", "size": 4, "strokeWidth": 1, "clip": true},
      "encoding": {
        "x": {"field": "k", "type": "quantitative"},
        "y": {"field": "o", "type": "quantitative"},
        "y2": {"field": "c"},
        "fill": {"condition": {"test": "datum.c >= datum.o", "value": "#aedcef"}, "value": "#e8474d"},
        "stroke": {"condition": {"test": "datum.c >= datum.o", "value": "#8ccbe8"}, "value": "#f03a3a"}
      }
    },
    {
      "data": {"name": "ma"},
      "mark": {"type": "line", "strokeWidth": 1.3, "clip": true},
      "encoding": {
        "x": {"field": "k", "type": "quantitative"},
        "y": {"field": "v", "type": "quantitative"},
        "color": {"field": "s", "type": "nominal", "scale": {"domain": ["slow", "mid", "fast"], "range": ["#1010ff", "#e00000", "#c4bca8"]}, "legend": null},
        "order": {"field": "k", "type": "quantitative"}
      }
    },
    {
      "data": {"name": "channel"},
      "mark": {"type": "rule", "color": "#e4e4dc", "strokeWidth": 1, "clip": true},
      "encoding": {
        "x": {"field": "k1", "type": "quantitative"},
        "x2": {"field": "k2"},
        "y": {"field": "p1", "type": "quantitative"},
        "y2": {"field": "p2"}
      }
    },
    {
      "data": {"name": "icons"},
      "mark": {"type": "text", "color": "#dcdcdc", "fontSize": 11, "fontWeight": "bold", "font": "DejaVu Sans", "baseline": "middle", "align": "center"},
      "encoding": {
        "x": {"field": "k", "type": "quantitative"},
        "y": {"field": "p", "type": "quantitative"},
        "text": {"field": "t"}
      }
    },
    {
      "data": {"name": "levels"},
      "transform": [{"filter": "datum.p > 59300"}],
      "mark": {"type": "point", "shape": "M -1 0 L -0.83 -0.224 L 1 -0.224 L 1 0.224 L -0.83 0.224 Z", "size": 3364, "filled": true, "opacity": 1, "xOffset": 29, "stroke": "#9a9a9a", "strokeWidth": 1},
      "encoding": {
        "x": {"value": "width"},
        "y": {"field": "p", "type": "quantitative"},
        "fill": {"field": "n", "type": "nominal", "scale": {"domain": ["line", "close", "ma1", "ma2", "ma3"], "range": ["#d6d6d6", "#f2f2dc", "#ffffff", "#ffffff", "#ffffff"]}, "legend": null}
      }
    },
    {
      "data": {"name": "levels"},
      "transform": [{"filter": "datum.p > 59300"}],
      "mark": {"type": "text", "align": "left", "baseline": "middle", "dx": 8, "fontSize": 12, "font": "Liberation Sans", "color": "#000000"},
      "encoding": {
        "x": {"value": "width"},
        "y": {"field": "p", "type": "quantitative"},
        "text": {"field": "t"}
      }
    },
    {
      "data": {"name": "levels"},
      "transform": [{"filter": "datum.p < 59300"}],
      "mark": {"type": "point", "shape": "M -1 0 L -0.83 -0.224 L 1 -0.224 L 1 0.224 L -0.83 0.224 Z", "size": 3364, "filled": true, "opacity": 1, "xOffset": 29, "stroke": "#9a9a9a", "strokeWidth": 1},
      "encoding": {
        "x": {"value": "width"},
        "y": {"field": "p", "type": "quantitative"},
        "fill": {"field": "n", "type": "nominal", "legend": null}
      }
    },
    {
      "data": {"name": "levels"},
      "transform": [{"filter": "datum.p < 59300"}],
      "mark": {"type": "text", "align": "left", "baseline": "middle", "dx": 8, "fontSize": 12, "font": "Liberation Sans", "color": "#000000"},
      "encoding": {
        "x": {"value": "width"},
        "y": {"field": "p", "type": "quantitative"},
        "text": {"field": "t"}
      }
    }
  ]
}
